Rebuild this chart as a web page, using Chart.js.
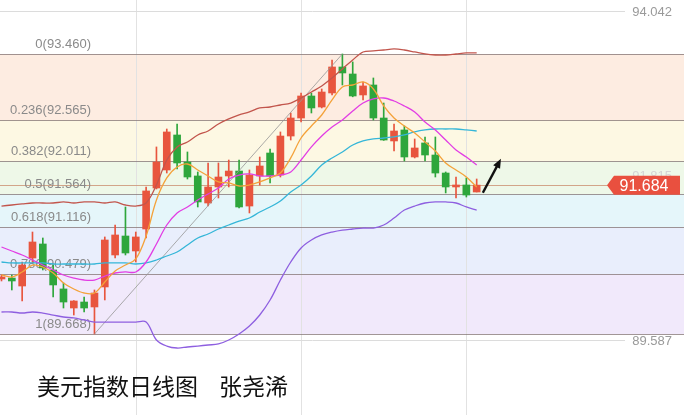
<!DOCTYPE html>
<html>
<head>
<meta charset="utf-8">
<script src="https://cdn.jsdelivr.net/npm/chart.js@4.4.0/dist/chart.umd.min.js"></script>
<style>
html, body { margin: 0; padding: 0; background: #fff; }
canvas { display: block; }
</style>
</head>
<body>
<canvas id="chart" width="684" height="415"></canvas>
<script>
// daily candles, index 0..46
var opens  = [90.413, 90.426, 90.318, 90.697, 90.887, 90.535, 90.278, 90.020, 90.101, 90.034,
              90.305, 90.738, 90.995, 90.792, 91.090, 91.645, 91.889, 92.363, 91.997, 91.808,
              91.442, 91.659, 91.808, 91.875, 91.401, 91.808, 92.119, 91.821, 92.349, 92.593,
              92.891, 92.742, 92.932, 93.284, 93.189, 92.905, 93.040, 92.593, 92.282, 92.431,
              92.065, 92.255, 92.092, 91.848, 91.659, 91.686, 91.591]
var highs  = [90.467, 90.467, 90.643, 91.049, 90.968, 90.602, 90.359, 90.120, 90.169, 90.264,
              90.982, 91.144, 91.388, 91.049, 91.659, 92.201, 92.444, 92.512, 92.133, 91.862,
              91.984, 91.984, 92.024, 92.024, 91.889, 92.065, 92.173, 92.404, 92.660, 92.932,
              92.932, 92.986, 93.379, 93.460, 93.352, 93.081, 93.135, 92.796, 92.512, 92.485,
              92.309, 92.336, 92.336, 91.862, 91.794, 91.781, 91.767]
var lows   = [90.386, 90.264, 90.115, 90.630, 90.535, 90.169, 90.020, 89.925, 89.966, 89.668,
              90.129, 90.697, 90.738, 90.643, 90.968, 91.632, 91.848, 91.903, 91.767, 91.388,
              91.401, 91.510, 91.659, 91.374, 91.307, 91.686, 91.713, 91.794, 92.295, 92.539,
              92.661, 92.729, 92.905, 93.040, 92.880, 92.837, 92.566, 92.290, 92.146, 92.011,
              92.052, 92.011, 91.794, 91.578, 91.510, 91.523, 91.591]
var closes = [90.440, 90.386, 90.602, 90.914, 90.562, 90.332, 90.101, 90.115, 90.020, 90.223,
              90.941, 91.009, 90.765, 90.982, 91.605, 91.997, 92.404, 91.984, 91.794, 91.456,
              91.659, 91.794, 91.875, 91.388, 91.821, 91.943, 91.808, 92.349, 92.593, 92.891,
              92.729, 92.945, 93.284, 93.203, 92.891, 93.027, 92.593, 92.295, 92.417, 92.065,
              92.187, 92.092, 91.848, 91.659, 91.686, 91.550, 91.684]

// indicator lines
var maFast = [90.467, 90.440, 90.508, 90.602, 90.575, 90.494, 90.359, 90.277, 90.223, 90.223,
              90.372, 90.521, 90.602, 90.684, 90.995, 91.483, 91.781, 91.930, 91.970, 91.889,
              91.808, 91.727, 91.713, 91.672, 91.686, 91.727, 91.781, 91.848, 92.052, 92.322,
              92.485, 92.634, 92.837, 93.013, 93.040, 93.081, 92.986, 92.756, 92.593, 92.485,
              92.390, 92.268, 92.146, 91.984, 91.889, 91.794, 91.659]
var maSlow = [90.846, 90.792, 90.738, 90.670, 90.602, 90.535, 90.467, 90.426, 90.399, 90.399,
              90.453, 90.494, 90.508, 90.508, 90.643, 90.887, 91.144, 91.307, 91.388, 91.483,
              91.564, 91.645, 91.767, 91.821, 91.835, 91.808, 91.808, 91.821, 91.862, 92.024,
              92.201, 92.349, 92.471, 92.566, 92.688, 92.796, 92.851, 92.864, 92.823, 92.756,
              92.675, 92.539, 92.431, 92.295, 92.160, 92.065, 91.957]
var bollMid = [90.643, 90.630, 90.630, 90.630, 90.630, 90.616, 90.616, 90.616, 90.616, 90.616,
               90.630, 90.630, 90.630, 90.616, 90.630, 90.670, 90.724, 90.778, 90.873, 90.968,
               91.022, 91.090, 91.144, 91.198, 91.239, 91.320, 91.388, 91.469, 91.591, 91.686,
               91.808, 91.957, 92.052, 92.133, 92.228, 92.282, 92.309, 92.322, 92.336, 92.363,
               92.404, 92.431, 92.444, 92.444, 92.444, 92.431, 92.417]
var bollUp = [91.401, 91.415, 91.429, 91.442, 91.442, 91.442, 91.456, 91.442, 91.456, 91.456,
              91.442, 91.456, 91.415, 91.401, 91.442, 91.686, 92.024, 92.201, 92.268, 92.363,
              92.417, 92.512, 92.580, 92.634, 92.675, 92.729, 92.742, 92.769, 92.796, 92.864,
              92.945, 93.027, 93.135, 93.257, 93.379, 93.487, 93.501, 93.514, 93.528, 93.514,
              93.487, 93.460, 93.446, 93.446, 93.460, 93.474, 93.474]
var bollLow = [89.966, 89.966, 89.952, 89.966, 89.952, 89.925, 89.898, 89.885, 89.858, 89.830,
               89.830, 89.830, 89.830, 89.830, 89.830, 89.587, 89.505, 89.478, 89.492, 89.505,
               89.519, 89.533, 89.587, 89.668, 89.776, 89.925, 90.128, 90.399, 90.643, 90.833,
               90.941, 91.009, 91.049, 91.076, 91.090, 91.103, 91.103, 91.144, 91.239, 91.347,
               91.401, 91.442, 91.456, 91.456, 91.442, 91.388, 91.347]

var fibRatios = ['0', '0.236', '0.382', '0.5', '0.618', '0.786', '1']
var fibPrices = [93.460, 92.565, 92.011, 91.564, 91.116, 90.479, 89.668]
var axisLabels = [94.042, 91.815, 89.587]
var lastPrice = 91.684
var trendFrom = [9, 89.668]
var trendTo = [33, 93.460]
var arrowFrom = [46.6, 91.58]
var arrowTo = [48.35, 92.04]
var gridX = [13, 29, 45]
var titleText = '美元指数日线图'
var authorText = '张尧浠'

var UP = '#e8553e'
var DOWN = '#2ea63c'
var bandColors = ['#fdece1', '#fdf8e3', '#eef8e8', '#e5f6fa', '#e9eefc', '#f1e9fb']

function pts(arr) {
    var out = []
    for (var i = 0; i < arr.length; i++) out.push({x: i, y: arr[i]})
    return out
}
function candleColor(ctx) {
    var i = ctx.dataIndex
    return closes[i] >= opens[i] ? UP : DOWN
}
var bodies = [], wicks = []
for (var i = 0; i < opens.length; i++) {
    bodies.push({x: i, y: [opens[i], closes[i]]})
    wicks.push({x: i, y: [lows[i], highs[i]]})
}

function lineSet(data, color) {
    return {
        type: 'line', data: pts(data), borderColor: color, borderWidth: 1.3,
        pointRadius: 0, tension: 0.35, fill: false, order: 0
    }
}

var fibPlugin = {
    id: 'fib',
    beforeDatasetsDraw: function(chart) {
        var c = chart.ctx, ys = chart.scales.y, xs = chart.scales.x
        var w = chart.width, h = chart.height
        c.save()
        for (var i = 0; i < fibPrices.length - 1; i++) {
            var y1 = ys.getPixelForValue(fibPrices[i]), y2 = ys.getPixelForValue(fibPrices[i + 1])
            c.fillStyle = bandColors[i]
            c.fillRect(0, y1, w, y2 - y1)
        }
        c.lineWidth = 1
        c.strokeStyle = '#e2e2e2'
        gridX.forEach(function(v) {
            var px = Math.round(xs.getPixelForValue(v)) + 0.5
            c.beginPath(); c.moveTo(px, 0); c.lineTo(px, h); c.stroke()
        })
        // top / bottom axis lines
        c.strokeStyle = '#dcdcdc'
        ;[axisLabels[0], axisLabels[2]].forEach(function(v) {
            var py = Math.round(ys.getPixelForValue(v)) + 0.5
            c.beginPath(); c.moveTo(0, py); c.lineTo(625, py); c.stroke()
        })
        c.font = '13px "Liberation Sans", Arial, sans-serif'
        c.textAlign = 'right'
        c.textBaseline = 'middle'
        axisLabels.forEach(function(v, k) {
            c.fillStyle = k == 1 ? '#d4d4d4' : '#9a9a9a'
            c.fillText(v.toFixed(3), 672, ys.getPixelForValue(v) + 1)
        })
        // fib level lines
        c.strokeStyle = 'rgba(130,115,115,0.75)'
        fibPrices.forEach(function(v) {
            var py = Math.round(ys.getPixelForValue(v)) + 0.5
            c.beginPath(); c.moveTo(0, py); c.lineTo(w, py); c.stroke()
        })
        // last price line
        var lp = Math.round(ys.getPixelForValue(lastPrice)) + 0.5
        c.strokeStyle = 'rgba(205,150,120,0.85)'
        c.beginPath(); c.moveTo(0, lp); c.lineTo(608, lp); c.stroke()
        // fib labels
        c.fillStyle = '#8a8a8a'
        c.textBaseline = 'alphabetic'
        fibPrices.forEach(function(v, k) {
            c.fillText(fibRatios[k] + '(' + v.toFixed(3) + ')', 91, ys.getPixelForValue(v) - 6)
        })
        c.restore()
    },
    afterDatasetsDraw: function(chart) {
        var c = chart.ctx, ys = chart.scales.y, xs = chart.scales.x
        c.save()
        // arrow
        var x1 = xs.getPixelForValue(arrowFrom[0]), y1 = ys.getPixelForValue(arrowFrom[1])
        var x2 = xs.getPixelForValue(arrowTo[0]), y2 = ys.getPixelForValue(arrowTo[1])
        var ang = Math.atan2(y2 - y1, x2 - x1), hl = 10
        c.strokeStyle = '#111'; c.fillStyle = '#111'; c.lineWidth = 2.4
        c.beginPath(); c.moveTo(x1, y1)
        c.lineTo(x2 - (hl - 2) * Math.cos(ang), y2 - (hl - 2) * Math.sin(ang)); c.stroke()
        c.beginPath(); c.moveTo(x2, y2)
        c.lineTo(x2 - hl * Math.cos(ang - 0.4), y2 - hl * Math.sin(ang - 0.4))
        c.lineTo(x2 - hl * Math.cos(ang + 0.4), y2 - hl * Math.sin(ang + 0.4))
        c.closePath(); c.fill()
        // price tag
        var py = ys.getPixelForValue(lastPrice)
        c.fillStyle = '#e9503f'
        c.beginPath()
        c.moveTo(607, py); c.lineTo(614, py - 9.5); c.lineTo(680, py - 9.5)
        c.lineTo(680, py + 9.5); c.lineTo(614, py + 9.5); c.closePath(); c.fill()
        c.fillStyle = '#fff'
        c.font = '16px "Liberation Sans", Arial, sans-serif'
        c.textAlign = 'center'; c.textBaseline = 'middle'
        c.fillText(lastPrice.toFixed(3), 644, py + 1)
        // caption
        c.fillStyle = '#111'
        c.font = '23px "Noto Sans CJK SC", sans-serif'
        c.textAlign = 'left'
        c.fillText(titleText, 37, 386)
        c.fillText(authorText, 219, 386)
        c.restore()
    }
}

var chart = new Chart(document.getElementById('chart'), {
    type: 'bar',
    data: {
        datasets: [
            lineSet(maFast, '#f4a23a'),
            lineSet(maSlow, '#e23de4'),
            lineSet(bollMid, '#35b6d8'),
            lineSet(bollUp, '#c2554c'),
            lineSet(bollLow, '#8e5fe0'),
            {
                type: 'line', data: [{x: trendFrom[0], y: trendFrom[1]}, {x: trendTo[0], y: trendTo[1]}],
                borderColor: 'rgba(150,150,150,0.8)', borderWidth: 1, pointRadius: 0, order: 0
            },
            {
                label: 'wick', data: wicks, backgroundColor: candleColor,
                barThickness: 1, grouped: false, order: 2
            },
            {
                label: 'body', data: bodies, backgroundColor: candleColor,
                barThickness: 7, grouped: false, order: 1
            }
        ]
    },
    options: {
        responsive: false,
        animation: false,
        layout: { padding: 0 },
        plugins: { legend: { display: false }, tooltip: { enabled: false } },
        scales: {
            x: { type: 'linear', display: false, offset: false, min: -0.145, max: 66.07 },
            y: { display: false, min: 88.571, max: 94.191 }
        }
    },
    plugins: [fibPlugin]
})
</script>
</body>
</html>
